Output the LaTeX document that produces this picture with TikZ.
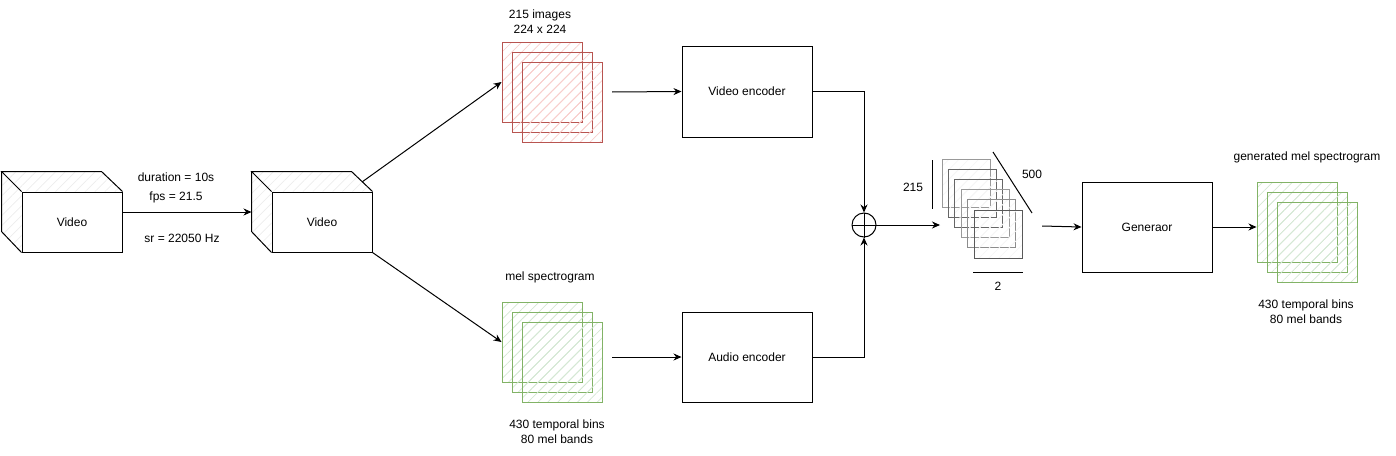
\documentclass[tikz,border=0pt]{standalone}
\usepackage{fontspec}
\setmainfont{Liberation Sans}
\usetikzlibrary{patterns.meta,arrows.meta}
\definecolor{redline}{HTML}{B85450}
\definecolor{redhatch}{HTML}{F8CECC}
\definecolor{greenline}{HTML}{82B366}
\definecolor{greenhatch}{HTML}{D5E8D4}

\begin{document}
\begin{tikzpicture}[x=1pt,y=-1pt,line width=1pt,
    every node/.style={font=\fontsize{12}{15}\selectfont},
    box/.style={draw,minimum width=130pt,minimum height=90pt,inner sep=0pt},
    face/.style={draw,minimum width=100pt,minimum height=60pt,inner sep=0pt},
    hull/.style={minimum width=120pt,minimum height=80pt,inner sep=0pt},
    hatch/.style={pattern={Lines[angle=45,distance=7pt,line width=0.7pt]}},
    frame/.style={draw,hatch,minimum width=80pt,minimum height=80pt,inner sep=0pt},
    redframe/.style={frame,draw=redline,pattern color=redhatch},
    greenframe/.style={frame,draw=greenline,pattern color=greenhatch},
    arr/.style={-{Stealth[length=8pt,width=7pt]}}]
    \useasboundingbox (0,0) rectangle (1396,455);

    % input video cubes
    \foreach \n/\x in {1/72,2/322}{
        \node[hull] (vid\n) at (\x-10,212) {};
        \node[face] (front\n) at (\x,222) {Video};
        \fill[hatch,pattern color=gray!15]
            (front\n.north west) -- ++(-20,-20) -- ++(100,0)
            -- (front\n.north east) -- cycle;
        \fill[hatch,pattern color=gray!15]
            (front\n.north west) -- ++(-20,-20) -- ++(0,60)
            -- (front\n.south west) -- cycle;
        \draw (front\n.north west) -- ++(-20,-20) -- ++(100,0)
            -- (front\n.north east);
        \draw (front\n.north west) ++(-20,-20) -- ++(0,60)
            -- (front\n.south west);
    }
    \draw[arr] (vid1.east) -- (vid2.west);
    \node (dur) at (176,177) {duration = 10s};
    \node (fps) at (176,197) {fps = 21.5};
    \node (sr) at (182,238) {sr = 22050 Hz};

    % frames and spectrogram stacks
    \foreach \i in {0,1,2}{
        \node[redframe] (img\i) at (542+10*\i,82+10*\i) {};
        \node[greenframe] (mel\i) at (542+10*\i,342+10*\i) {};
        \node[greenframe] (out\i) at (1297+10*\i,222+10*\i) {};
    }
    \node[align=center] (imglbl) at (540,22) {215 images\\224 x 224};
    \node (mellbl) at (550,277) {mel spectrogram};
    \node[align=center] (melsize) at (557,432) {430 temporal bins\\80 mel bands};
    \node (outlbl) at (1307,157) {generated mel spectrogram};
    \node[align=center] (outsize) at (1306,312) {430 temporal bins\\80 mel bands};

    \coordinate (split) at (362,182);
    \draw[arr] (split) -- (img0.west);
    \draw[arr] (vid2.south east) -- (mel0.west);

    % encoders
    \node[box,minimum height=91pt] (venc) at (747,91.5) {Video encoder};
    \node[box] (aenc) at (747,357) {Audio encoder};
    \coordinate (imgout) at (612,92);
    \coordinate (melout) at (612,357);
    \draw[arr] (imgout) -- (venc.west);
    \draw[arr] (melout) -- (aenc.west);

    % fusion
    \node[draw,circle,minimum size=24pt,inner sep=0pt] (sum) at (864,225) {};
    \draw (sum.north) -- (sum.south) (sum.west) -- (sum.east);
    \draw[arr] (venc.east) -| (sum.north);
    \draw[arr] (aenc.east) -| (sum.south);

    % feature volume
    \foreach \i/\c in {0/black!40,1/black!60,2/black!60,3/black!40,4/black!45,5/black!65}{
        \node[draw=\c,hatch,pattern color=gray!8,minimum size=48pt,inner sep=0pt]
            (feat\i) at (966+6.4*\i,183+10.2*\i) {};
    }
    \draw (932,160) -- (932,209);
    \draw (993,152) -- (1032,213);
    \draw (973,272) -- (1023,272);
    \node (h) at (913,187) {215};
    \node (d) at (1032,174) {500};
    \node (w) at (998,286) {2};
    \coordinate (featin) at (940,225);
    \coordinate (featout) at (1042,226);
    \draw[arr] (sum.east) -- (featin);

    % generator
    \node[box] (gen) at (1147,227) {Generaor};
    \draw[arr] (featout) -- (gen.west);
    \draw[arr] (gen.east) -- (gen.east -| out0.west);
\end{tikzpicture}
\end{document}
